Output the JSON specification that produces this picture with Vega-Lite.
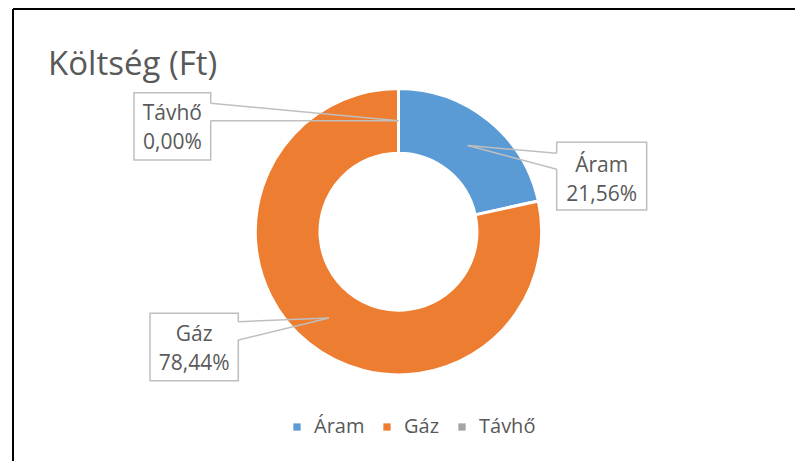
{
  "$schema": "https://vega.github.io/schema/vega-lite/v6.json",
  "width": 782,
  "height": 452,
  "autosize": "none",
  "padding": {"left": 13, "top": 9, "right": 0, "bottom": 0},
  "background": "white",
  "config": {"view": {"stroke": null}},
  "title": {"text": "Költség (Ft)", "anchor": "start", "orient": "top", "frame": "group", "offset": 0, "baseline": "alphabetic", "dx": 35, "dy": 100, "font": "Open Sans", "fontSize": 33, "fontWeight": "normal", "color": "#595959"},
  "data": {"values": [
    {"cat": "Áram", "share": 21.56},
    {"cat": "Gáz", "share": 78.44},
    {"cat": "Távhő", "share": 0}
  ]},
  "transform": [
    {"window": [{"op": "row_number", "as": "idx"}]},
    {"calculate": "datum.cat + '\\n' + replace(format(datum.share, '.2f'), '.', ',') + '%'", "as": "label"}
  ],
  "layer": [
    {
      "mark": {"type": "arc", "innerRadius": 78.5, "outerRadius": 143.2, "stroke": "white", "strokeWidth": 3},
      "encoding": {
        "x": {"datum": 0, "type": "quantitative", "scale": {"domain": [-2.7205, 2.7982], "nice": false, "zero": false}, "axis": null},
        "y": {"datum": 0, "type": "quantitative", "scale": {"domain": [-1.6182, 1.5716], "nice": false, "zero": false}, "axis": null},
        "theta": {"field": "share", "type": "quantitative", "stack": true},
        "order": {"field": "idx", "type": "quantitative"},
        "color": {
          "field": "cat", "type": "nominal",
          "scale": {"domain": ["Áram", "Gáz", "Távhő"], "range": ["#5B9BD5", "#ED7D31", "#A5A5A5"]},
          "legend": {
            "title": null, "orient": "none", "direction": "horizontal", "legendX": 274, "legendY": 408,
            "symbolType": "square", "symbolSize": 53, "symbolStrokeWidth": 0, "symbolOpacity": 1,
            "labelFont": "Open Sans", "labelFontSize": 20, "labelColor": "#595959", "labelOffset": 7,
            "columnPadding": 12
          }
        }
      }
    },
    {
      "transform": [{"filter": "datum.cat === 'Áram'"}],
      "layer": [
        {"mark": {"type": "rect", "fill": "white", "stroke": "#BFBFBF", "strokeWidth": 1.5},
         "encoding": {"x": {"datum": 1.1164, "type": "quantitative"}, "x2": {"datum": 1.7516}, "y": {"datum": 0.6309, "type": "quantitative"}, "y2": {"datum": 0.1531}}},
        {"mark": {"type": "rule", "color": "white", "strokeWidth": 3},
         "encoding": {"x": {"datum": 1.1164, "type": "quantitative"}, "x2": {"datum": 1.1164}, "y": {"datum": 0.5533, "type": "quantitative"}, "y2": {"datum": 0.4404}}},
        {"mark": {"type": "rule", "color": "#BFBFBF", "strokeWidth": 1.5},
         "encoding": {"x": {"datum": 0.4888, "type": "quantitative"}, "x2": {"datum": 1.1164}, "y": {"datum": 0.6079, "type": "quantitative"}, "y2": {"datum": 0.5533}}},
        {"mark": {"type": "rule", "color": "#BFBFBF", "strokeWidth": 1.5},
         "encoding": {"x": {"datum": 0.4888, "type": "quantitative"}, "x2": {"datum": 1.1164}, "y": {"datum": 0.6079, "type": "quantitative"}, "y2": {"datum": 0.4404}}},
        {"mark": {"type": "text", "font": "Open Sans", "fontSize": 21, "color": "#595959", "align": "center", "baseline": "alphabetic", "lineBreak": "\n", "lineHeight": 29},
         "encoding": {"x": {"datum": 1.434, "type": "quantitative"}, "y": {"datum": 0.4213, "type": "quantitative"}, "text": {"field": "label", "type": "nominal"}}}
      ]
    },
    {
      "transform": [{"filter": "datum.cat === 'Gáz'"}],
      "layer": [
        {"mark": {"type": "rect", "fill": "white", "stroke": "#BFBFBF", "strokeWidth": 1.5},
         "encoding": {"x": {"datum": -1.7537, "type": "quantitative"}, "x2": {"datum": -1.1306}, "y": {"datum": -0.5759, "type": "quantitative"}, "y2": {"datum": -1.0515}}},
        {"mark": {"type": "rule", "color": "white", "strokeWidth": 3},
         "encoding": {"x": {"datum": -1.1306, "type": "quantitative"}, "x2": {"datum": -1.1306}, "y": {"datum": -0.6351, "type": "quantitative"}, "y2": {"datum": -0.7643}}},
        {"mark": {"type": "rule", "color": "#BFBFBF", "strokeWidth": 1.5},
         "encoding": {"x": {"datum": -0.4902, "type": "quantitative"}, "x2": {"datum": -1.1306}, "y": {"datum": -0.6096, "type": "quantitative"}, "y2": {"datum": -0.6351}}},
        {"mark": {"type": "rule", "color": "#BFBFBF", "strokeWidth": 1.5},
         "encoding": {"x": {"datum": -0.4902, "type": "quantitative"}, "x2": {"datum": -1.1306}, "y": {"datum": -0.6096, "type": "quantitative"}, "y2": {"datum": -0.7643}}},
        {"mark": {"type": "text", "font": "Open Sans", "fontSize": 21, "color": "#595959", "align": "center", "baseline": "alphabetic", "lineBreak": "\n", "lineHeight": 29},
         "encoding": {"x": {"datum": -1.4421, "type": "quantitative"}, "y": {"datum": -0.7692, "type": "quantitative"}, "text": {"field": "label", "type": "nominal"}}}
      ]
    },
    {
      "transform": [{"filter": "datum.cat === 'Távhő'"}],
      "layer": [
        {"mark": {"type": "rect", "fill": "white", "stroke": "#BFBFBF", "strokeWidth": 1.5},
         "encoding": {"x": {"datum": -1.8666, "type": "quantitative"}, "x2": {"datum": -1.3253}, "y": {"datum": 0.9809, "type": "quantitative"}, "y2": {"datum": 0.5060}}},
        {"mark": {"type": "rule", "color": "white", "strokeWidth": 3},
         "encoding": {"x": {"datum": -1.3253, "type": "quantitative"}, "x2": {"datum": -1.3253}, "y": {"datum": 0.9061, "type": "quantitative"}, "y2": {"datum": 0.7833}}},
        {"mark": {"type": "rule", "color": "#BFBFBF", "strokeWidth": 1.5},
         "encoding": {"x": {"datum": 0, "type": "quantitative"}, "x2": {"datum": -1.3253}, "y": {"datum": 0.7823, "type": "quantitative"}, "y2": {"datum": 0.9061}}},
        {"mark": {"type": "rule", "color": "#BFBFBF", "strokeWidth": 1.5},
         "encoding": {"x": {"datum": 0, "type": "quantitative"}, "x2": {"datum": -1.3253}, "y": {"datum": 0.7823, "type": "quantitative"}, "y2": {"datum": 0.7833}}},
        {"mark": {"type": "text", "font": "Open Sans", "fontSize": 21, "color": "#595959", "align": "center", "baseline": "alphabetic", "lineBreak": "\n", "lineHeight": 29},
         "encoding": {"x": {"datum": -1.596, "type": "quantitative"}, "y": {"datum": 0.7883, "type": "quantitative"}, "text": {"field": "label", "type": "nominal"}}}
      ]
    },
    {
      "transform": [{"filter": "datum.idx === 1"}],
      "layer": [
        {"mark": {"type": "rule", "color": "#000000", "strokeWidth": 2},
         "encoding": {"x": {"datum": -2.7205, "type": "quantitative"}}},
        {"mark": {"type": "rule", "color": "#000000", "strokeWidth": 2},
         "encoding": {"y": {"datum": 1.5716, "type": "quantitative"}}}
      ]
    }
  ]
}
